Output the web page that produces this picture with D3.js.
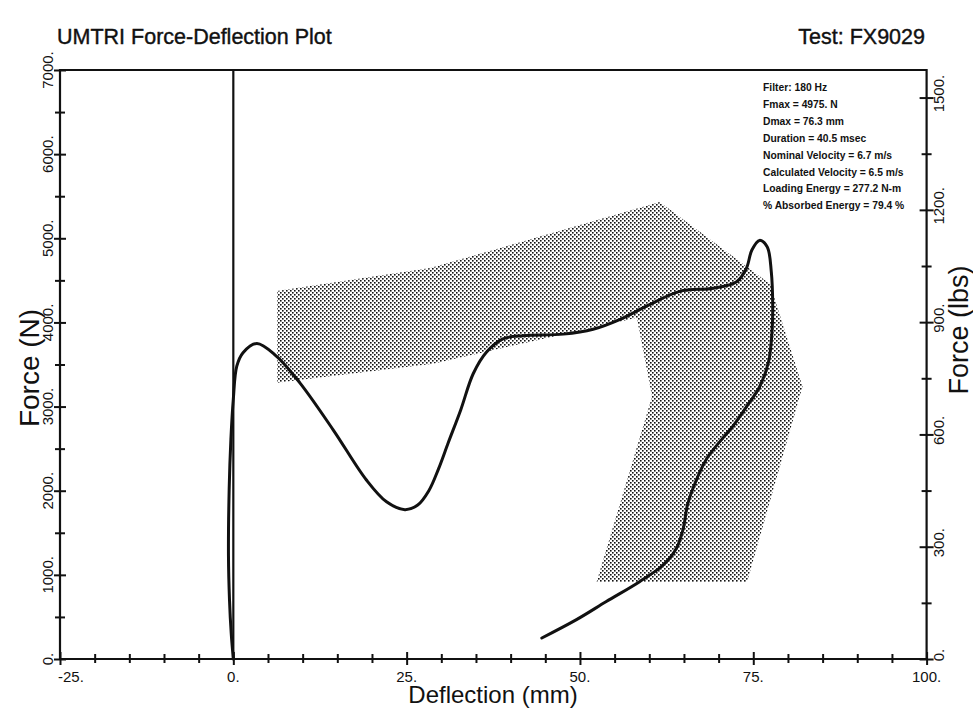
<!DOCTYPE html>
<html>
<head>
<meta charset="utf-8">
<script src="https://cdn.jsdelivr.net/npm/d3@7"></script>
<style>
  body { margin: 0; background: #fff; }
  text { font-family: "Liberation Sans", Arial, Helvetica, sans-serif; fill: #111; }
</style>
</head>
<body>
<svg id="chart" width="973" height="711"></svg>
<script>
// Force-deflection trace (deflection in mm, force in N)
const traceDefl = [0, -0.3, -0.55, -0.7, -0.6, -0.35, 0.0, 0.5, 1.4, 3.4, 6.2, 9.6, 14.4, 19.2, 22.1, 24.75,
  26.6, 28.2, 29.6, 31.0, 32.8, 34.6, 36.5, 38.9, 41.8, 47.6, 51.9, 55.8, 59.6, 64.4, 69.2, 72.6, 74.0, 74.8,
  75.9, 77.0, 77.6, 77.8, 77.7, 77.2, 75.9, 74.2, 72.2, 68.3, 66.3, 65.5, 64.9, 63.9, 62.0, 58.6, 53.8, 49.5, 44.5];
const traceForce = [0, 300, 700, 1230, 2010, 2610, 3090, 3480, 3640, 3750, 3600, 3282, 2724, 2127, 1868, 1775,
  1830, 2000, 2260, 2570, 2960, 3390, 3646, 3805, 3843, 3861, 3919, 4037, 4193, 4369, 4407, 4484, 4641, 4861,
  4975, 4900, 4601, 4205, 3887, 3531, 3233, 3020, 2782, 2383, 2027, 1830, 1551, 1313, 1117, 919, 683, 468, 250];

// Response corridor outline
const corridorDefl = [6.3, 28.4, 61.5, 77.4, 82.1, 74.1, 52.4, 60.4, 58.2, 28.8, 6.3];
const corridorForce = [4374, 4646, 5430, 4458, 3240, 915, 915, 3121, 4056, 3510, 3283];

// Axis ticks
const xMajor = [-25, 0, 25, 50, 75, 100];
const xMinor = [-20, -15, -10, -5, 5, 10, 15, 20, 30, 35, 40, 45, 55, 60, 65, 70, 80, 85, 90, 95];
const nMajor = [0, 1000, 2000, 3000, 4000, 5000, 6000, 7000];
const nMinor = [500, 1500, 2500, 3500, 4500, 5500, 6500];
const lbsMajor = [0, 300, 600, 900, 1200, 1500];
const lbsMinor = [150, 450, 750, 1050, 1350];

// Test summary
const statsLines = [
  "Filter: 180 Hz",
  "Fmax = 4975. N",
  "Dmax = 76.3 mm",
  "Duration = 40.5 msec",
  "Nominal Velocity = 6.7 m/s",
  "Calculated Velocity = 6.5 m/s",
  "Loading Energy =  277.2 N-m",
  "% Absorbed Energy = 79.4 %"
];
const titleText = "UMTRI Force-Deflection Plot";
const testText = "Test: FX9029";
const xTitle = "Deflection (mm)";
const yTitleLeft = "Force (N)";
const yTitleRight = "Force (lbs)";

const N_PER_LB = 4.44822;

const svg = d3.select("#chart");
const root = svg.append("g");

const x = d3.scaleLinear().domain([-25, 100]).range([60, 926.6]);
const y = d3.scaleLinear().domain([0, 7000]).range([659, 70]);
const yLbs = d3.scaleLinear().domain([0, 7000 / N_PER_LB]).range([659, 70]);

// stipple fill for the corridor
const defs = svg.append("defs");
const pat = defs.append("pattern").attr("id", "stipple")
  .attr("patternUnits", "userSpaceOnUse").attr("width", 4).attr("height", 4);
pat.append("rect").attr("x", 0).attr("y", 0).attr("width", 1.6).attr("height", 1.6).attr("fill", "#111");
pat.append("rect").attr("x", 2).attr("y", 2).attr("width", 1.6).attr("height", 1.6).attr("fill", "#111");

const corridor = corridorDefl.map((d, i) => [d, corridorForce[i]]);
root.append("path")
  .attr("d", d3.line().x(d => x(d[0])).y(d => y(d[1]))(corridor) + "Z")
  .attr("fill", "url(#stipple)").attr("stroke", "none");

// frame
root.append("path")
  .attr("d", `M${x(-25)},${y(0)}V${y(7000)}H${x(100)}V${y(0)}Z`)
  .attr("fill", "none").attr("stroke", "#111").attr("stroke-width", 2.2);

// zero deflection line
root.append("line")
  .attr("x1", x(0)).attr("x2", x(0)).attr("y1", y(0)).attr("y2", y(7000))
  .attr("stroke", "#111").attr("stroke-width", 2.2);

function tickAxis(axis, transform) {
  const g = root.append("g").attr("transform", transform).call(axis);
  g.select(".domain").remove();
  g.selectAll("text").remove();
  g.selectAll("line").attr("stroke", "#111").attr("stroke-width", 2);
  return g;
}

// x ticks crossing the bottom axis
tickAxis(d3.axisTop(x).tickValues(xMajor).tickSize(7), `translate(0,${y(0)})`);
tickAxis(d3.axisBottom(x).tickValues(xMajor).tickSize(6), `translate(0,${y(0)})`);
tickAxis(d3.axisTop(x).tickValues(xMinor).tickSize(5), `translate(0,${y(0)})`);
tickAxis(d3.axisBottom(x).tickValues(xMinor).tickSize(4), `translate(0,${y(0)})`);

// left ticks (N)
tickAxis(d3.axisLeft(y).tickValues(nMajor).tickSize(6), `translate(${x(-25)},0)`);
tickAxis(d3.axisRight(y).tickValues(nMajor).tickSize(6), `translate(${x(-25)},0)`);
tickAxis(d3.axisLeft(y).tickValues(nMinor).tickSize(5), `translate(${x(-25)},0)`);
tickAxis(d3.axisRight(y).tickValues(nMinor).tickSize(5), `translate(${x(-25)},0)`);

// right ticks (lbs)
tickAxis(d3.axisLeft(yLbs).tickValues(lbsMajor).tickSize(7), `translate(${x(100)},0)`);
tickAxis(d3.axisRight(yLbs).tickValues(lbsMajor).tickSize(7), `translate(${x(100)},0)`);
tickAxis(d3.axisLeft(yLbs).tickValues(lbsMinor).tickSize(5), `translate(${x(100)},0)`);
tickAxis(d3.axisRight(yLbs).tickValues(lbsMinor).tickSize(5), `translate(${x(100)},0)`);

// tick labels
root.append("g").selectAll("text").data(xMajor).join("text")
  .attr("x", d => d === -25 ? x(d) - 2 : x(d))
  .attr("y", 682)
  .attr("text-anchor", d => d === -25 ? "start" : "middle")
  .attr("font-size", 15)
  .text(d => d + ".");

root.append("g").selectAll("text").data(nMajor).join("text")
  .attr("transform", d => `translate(53,${y(d)}) rotate(-90)`)
  .attr("text-anchor", "middle")
  .attr("font-size", 15)
  .text(d => d + ".");

root.append("g").selectAll("text").data(lbsMajor).join("text")
  .attr("transform", d => `translate(944,${yLbs(d) - 4}) rotate(-90)`)
  .attr("text-anchor", "middle")
  .attr("font-size", 15)
  .text(d => d + ".");

// axis titles
root.append("text").attr("x", 493).attr("y", 703).attr("text-anchor", "middle")
  .attr("font-size", 24).text(xTitle);
root.append("text").attr("transform", "translate(39,368) rotate(-90)").attr("text-anchor", "middle")
  .attr("font-size", 28).text(yTitleLeft);
root.append("text").attr("transform", "translate(968,330) rotate(-90)").attr("text-anchor", "middle")
  .attr("font-size", 27).text(yTitleRight);

// headings
root.append("text").attr("x", 57).attr("y", 44).attr("font-size", 21.5)
  .attr("stroke", "#111").attr("stroke-width", 0.4).text(titleText);
root.append("text").attr("x", 925).attr("y", 44).attr("font-size", 21.5).attr("text-anchor", "end")
  .attr("stroke", "#111").attr("stroke-width", 0.4).text(testText);

// summary block
root.append("g").selectAll("text").data(statsLines).join("text")
  .attr("x", 763).attr("y", (d, i) => 91 + i * 16.9)
  .attr("font-size", 10.3).attr("font-weight", "bold")
  .text(d => d);

// force-deflection trace
const trace = traceDefl.map((d, i) => [d, traceForce[i]]);
root.append("path")
  .attr("d", d3.line().x(d => x(d[0])).y(d => y(d[1])).curve(d3.curveCatmullRom.alpha(0.5))(trace))
  .attr("fill", "none").attr("stroke", "#111").attr("stroke-width", 3)
  .attr("stroke-linejoin", "round").attr("stroke-linecap", "round");
</script>
</body>
</html>
